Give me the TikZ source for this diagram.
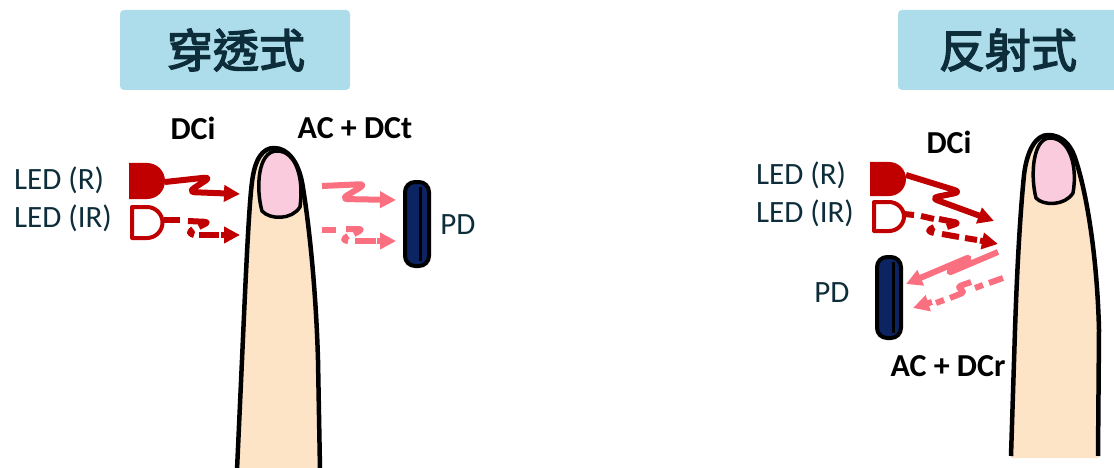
\documentclass[tikz,border=0pt]{standalone}
\usepackage{fontspec}
\setmainfont{Carlito}
\newfontfamily\cjk[FakeBold=3]{Noto Sans CJK TC}
\usetikzlibrary{arrows.meta}

\definecolor{ledred}{RGB}{192,0,0}
\definecolor{beam}{RGB}{250,112,128}
\definecolor{pdnavy}{RGB}{12,36,98}
\definecolor{skin}{RGB}{253,228,198}
\definecolor{nailpink}{RGB}{249,203,220}
\definecolor{titlebg}{RGB}{173,221,235}
\definecolor{inktext}{RGB}{14,45,58}

\tikzset{
  titlebox/.style={fill=titlebg, rounded corners=4pt},
  titletext/.style={inner sep=0pt, text=inktext, font=\cjk\fontsize{46}{50}\selectfont},
  label/.style={inner sep=0pt, text=inktext, font=\fontsize{31}{36}\selectfont},
  boldlabel/.style={inner sep=0pt, text=black, font=\bfseries\fontsize{32}{36}\selectfont},
  fingeroutline/.style={line width=4.5pt, black, line join=round},
  nailshape/.style={fill=nailpink, draw=black, line width=3.5pt},
  ledfull/.style={fill=ledred},
  ledhollow/.style={draw=ledred, line width=4pt, line join=round},
  detector/.style={fill=pdnavy, draw=black, line width=4pt, rounded corners=10pt},
  sig/.style={line width=6pt, rounded corners=7pt, line join=round, -{Triangle[length=16pt,width=16pt]}},
  piece/.style={line width=6pt, rounded corners=4pt, line join=round},
}

\begin{document}
\begin{tikzpicture}[x=1pt, y=-1pt]
\useasboundingbox (0,0) rectangle (1114,468);
\clip (0,0) rectangle (1114,468);

% ---------- transmissive type ----------
\fill[titlebox] (120,10) rectangle (350,90);
\node[titletext] (titleT) at (236,50) {穿透式};

% finger
\fill[skin] (237,470) -- (242,360) .. controls (246,270) and (249,205) .. (252,182)
  .. controls (255,158) and (263,148) .. (274,148) .. controls (288,148) and (298,162) .. (302,182)
  .. controls (309,222) and (316,290) .. (318,360) -- (320,470) -- cycle;
\draw[fingeroutline] (237,470) -- (242,360) .. controls (246,270) and (249,205) .. (252,182)
  .. controls (255,158) and (263,148) .. (274,148) .. controls (288,148) and (298,162) .. (302,182)
  .. controls (309,222) and (316,290) .. (318,360) -- (320,470);
\draw[nailshape] (262,211) .. controls (256,190) and (257,151) .. (277,151)
  .. controls (296,151) and (304,178) .. (300,207) .. controls (292,220) and (270,220) .. (262,211) -- cycle;

% LEDs
\fill[ledfull] (129,163) -- (147,163) .. controls (157,163) and (165,171) .. (165,181)
  .. controls (165,191) and (157,199) .. (147,199) -- (129,199) -- cycle;
\draw[ledhollow] (132,207) -- (147,207) .. controls (155.5,207) and (162.5,214) .. (162.5,222.5)
  .. controls (162.5,231) and (155.5,238) .. (147,238) -- (132,238) -- cycle;
\node[label, anchor=west] (ledRT) at (14,180) {LED (R)};
\node[label, anchor=west] (ledIRT) at (14,218) {LED (IR)};

% photodiode
\draw[detector] (405,182) rectangle (429,266);
\draw[black, line width=3pt] (420,187) -- (420,261);
\node[label] (pdT) at (458,225) {PD};

\node[boldlabel] (dciT) at (193,128) {DCi};
\node[boldlabel] (acdcT) at (355,128) {AC + DCt};

% light paths: red into the finger, pink out towards the detector
\coordinate (rOutT) at (165,182);
\coordinate (rInT) at (240,194);
\coordinate (irOutT) at (164,220);
\coordinate (irInT) at (240,235);
\coordinate (rExitT) at (322,186);
\coordinate (rPdT) at (396,200);
\coordinate (irExitT) at (322,230);
\coordinate (irPdT) at (396,241);
\draw[sig, ledred] (rOutT) -- (211,177) -- (188,192) -- (rInT);
\draw[piece, ledred] (irOutT) -- (180,220);
\draw[piece, ledred] (188,221) -- (209,222) -- (199,227);
\draw[piece, ledred] (193,229) -- (188,233) -- (194,235);
\draw[piece, ledred] (199,235) -- (219,235);
\draw[sig, ledred] (221,235) -- (irInT);
\draw[sig, beam] (rExitT) -- (366,184) -- (341,199) -- (rPdT);
\draw[piece, beam] (irExitT) -- (336,230);
\draw[piece, beam] (346,229) -- (363,229) -- (354,234);
\draw[piece, beam] (348,236) -- (342,240) -- (348,241);
\draw[piece, beam] (355,241) -- (376,241);
\draw[sig, beam] (377,241) -- (irPdT);

% ---------- reflective type ----------
\fill[titlebox] (898,10) rectangle (1130,90);
\node[titletext] (titleR) at (1008,50) {反射式};

% finger
\fill[skin] (1011,458) -- (1015,330) .. controls (1017,270) and (1020,215) .. (1024,175)
  .. controls (1027,150) and (1036,135) .. (1048,135) .. controls (1062,135) and (1070,145) .. (1074,155)
  .. controls (1085,185) and (1097,250) .. (1099,330) -- (1098,458) -- cycle;
\draw[fingeroutline] (1011,456) -- (1015,330) .. controls (1017,270) and (1020,215) .. (1024,175)
  .. controls (1027,150) and (1036,135) .. (1048,135) .. controls (1062,135) and (1070,145) .. (1074,155)
  .. controls (1085,185) and (1097,250) .. (1099,330) -- (1098,456);
\draw[nailshape] (1036,198) .. controls (1030,175) and (1033,138) .. (1050,138)
  .. controls (1069,138) and (1078,165) .. (1073,193) .. controls (1065,206) and (1043,206) .. (1036,198) -- cycle;

% LEDs
\fill[ledfull] (870,162) -- (889,162) .. controls (898.5,162) and (906,169.5) .. (906,179)
  .. controls (906,188.5) and (898.5,196) .. (889,196) -- (870,196) -- cycle;
\draw[ledhollow] (874,202) -- (889,202) .. controls (897,202) and (904,208.5) .. (904,216.5)
  .. controls (904,224.5) and (897,231) .. (889,231) -- (874,231) -- cycle;
\node[label, anchor=west] (ledRR) at (756,175) {LED (R)};
\node[label, anchor=west] (ledIRR) at (756,213) {LED (IR)};

% photodiode
\draw[detector] (877,257) rectangle (901,338);
\draw[black, line width=3pt] (893,262) -- (893,333);
\node[label] (pdR) at (832,293) {PD};

\node[boldlabel] (dciR) at (949,142) {DCi};
\node[boldlabel] (acdcR) at (948,366) {AC + DCr};

% light paths: red onto the finger, pink reflected back to the detector
\coordinate (rOutR) at (906,175);
\coordinate (rInR) at (994,221);
\coordinate (irOutR) at (904,214);
\coordinate (irInR) at (998,244);
\coordinate (rBackR) at (998,252);
\coordinate (rPdR) at (906,284);
\coordinate (irBackR) at (1003,278);
\coordinate (irPdR) at (913,308);
\draw[sig, ledred] (rOutR) -- (961,192) -- (931,198) -- (rInR);
\draw[piece, ledred] (irOutR) -- (914,215);
\draw[piece, ledred] (921,216) -- (934,219);
\draw[piece, ledred] (939,219) -- (959,223) -- (947,227);
\draw[piece, ledred] (934,227) -- (927,231) -- (934,233);
\draw[piece, ledred] (942,234) -- (959,237);
\draw[piece, ledred] (965,238) -- (977,240);
\draw[sig, ledred] (980,240.5) -- (irInR);
\draw[sig, beam] (rBackR) -- (946,274) -- (972,256) -- (rPdR);
\draw[piece, beam] (irBackR) -- (989,283);
\draw[piece, beam] (983,285) -- (975,288);
\draw[piece, beam] (971,282) -- (957,287) -- (965,292) -- (950,298);
\draw[piece, beam] (944,300) -- (936,303);
\draw[sig, beam] (932,302) -- (irPdR);
\end{tikzpicture}
\end{document}
